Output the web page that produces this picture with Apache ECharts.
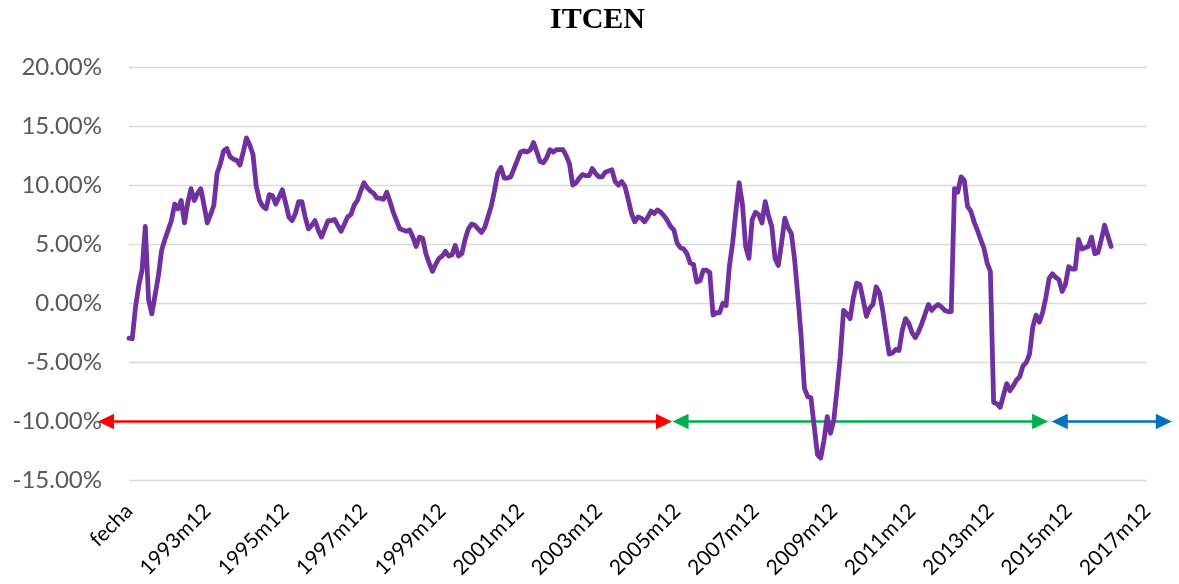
<!DOCTYPE html>
<html>
<head>
<meta charset="utf-8">
<script src="https://cdn.jsdelivr.net/npm/echarts@6/dist/echarts.min.js"></script>
<style>
html,body{margin:0;padding:0;background:#fff;}
#chart{width:1179px;height:584px;}
</style>
</head>
<body>
<div id="chart"></div>
<script>
// ---- data ----
const title = 'ITCEN';
const firstCategory = 'fecha';
const startYear = 1992, endYear = 2017;
// monthly ITCEN growth (%), first value sits on the "fecha" category, then 1992m1 ...
const itcen1992_1999 = [
  -2.95, -3.0, -0.3, 1.5, 2.8, 6.5, 0.3, -0.9, 0.7, 2.3, 4.5, 5.4, 6.2,
  7.0, 8.4, 8.0, 8.7, 6.8, 8.5, 9.7, 8.7, 9.3, 9.7, 8.3, 6.8,
  7.5, 8.3, 11.0, 11.8, 12.9, 13.1, 12.4, 12.2, 12.1, 11.7, 12.8, 14.0,
  13.4, 12.6, 9.9, 8.7, 8.2, 8.0, 9.2, 9.1, 8.4, 9.0, 9.6, 8.5,
  7.3, 7.0, 7.6, 8.6, 8.6, 7.3, 6.3, 6.6, 7.0, 6.2, 5.6, 6.3,
  7.0, 7.0, 7.1, 6.6, 6.1, 6.7, 7.3, 7.5, 8.3, 8.7, 9.5, 10.2,
  9.8, 9.5, 9.3, 8.9, 8.9, 8.8, 9.4, 8.6, 7.7, 7.0, 6.3, 6.2,
  6.1, 6.2, 5.6, 4.8, 5.6, 5.5, 4.2, 3.4, 2.7, 3.3, 3.8, 4.0
];
const itcen2000_2007 = [
  4.4, 4.0, 4.1, 4.9, 4.0, 4.2, 5.4, 6.3, 6.7, 6.6, 6.3, 6.0,
  6.4, 7.3, 8.2, 9.5, 11.0, 11.5, 10.6, 10.6, 10.7, 11.4, 12.1, 12.8,
  12.9, 12.8, 13.0, 13.6, 12.8, 12.0, 11.9, 12.3, 13.0, 12.8, 13.0, 13.0,
  13.0, 12.5, 11.8, 10.0, 10.2, 10.6, 10.9, 10.8, 10.8, 11.4, 11.0, 10.7,
  10.7, 11.1, 11.2, 11.3, 10.3, 10.0, 10.3, 9.9, 8.8, 7.6, 6.9, 7.3,
  7.2, 6.9, 7.3, 7.8, 7.6, 7.9, 7.7, 7.4, 7.0, 6.5, 6.2, 5.1,
  4.7, 4.6, 4.2, 3.4, 3.3, 1.8, 1.9, 2.8, 2.8, 2.6, -1.0, -0.8,
  -0.8, 0.0, -0.2, 3.1, 5.1, 7.8, 10.2, 8.4, 4.8, 3.8, 7.1, 7.7
];
const itcen2008_2017 = [
  7.5, 6.8, 8.6, 7.4, 6.5, 3.8, 3.2, 5.1, 7.2, 6.4, 5.9, 3.7,
  0.6, -2.8, -7.2, -7.9, -8.0, -10.4, -12.8, -13.1, -11.6, -9.6, -11.0, -9.9,
  -7.3, -4.5, -0.6, -0.9, -1.3, 0.5, 1.7, 1.6, 0.3, -1.1, -0.4, -0.1,
  1.4, 0.9, -0.6, -2.5, -4.3, -4.2, -3.9, -4.0, -2.3, -1.3, -1.7, -2.5,
  -2.9, -2.4, -1.7, -0.9, -0.1, -0.6, -0.3, -0.1, -0.3, -0.6, -0.7, -0.7,
  9.7, 9.4, 10.7, 10.4, 8.2, 7.8, 6.9, 6.2, 5.4, 4.7, 3.4, 2.7,
  -8.4, -8.5, -8.8, -7.8, -6.8, -7.4, -7.0, -6.5, -6.2, -5.3, -5.0, -4.3,
  -2.0, -1.0, -1.6, -0.8, 0.5, 2.1, 2.5, 2.2, 2.0, 1.0, 1.6, 3.1,
  2.9, 2.9, 5.4, 4.6, 4.7, 4.8, 5.6, 4.2, 4.3, 5.4, 6.6, 5.7,
  4.8
];
const yTicks = [-15, -10, -5, 0, 5, 10, 15, 20];
// period annotation arrows at the -10% level, ends given in category-index units
const periodArrows = [
  { from: -9.5, to: 166.4, color: '#FF0000' },
  { from: 166.6, to: 281.7, color: '#00B050' },
  { from: 282.8, to: 319.6, color: '#0070C0' }
];
const arrowLevel = -10;

// ---- build ----
const categories = [firstCategory];
for (let y = startYear; y <= endYear; y++) {
  for (let m = 1; m <= 12; m++) categories.push(y + 'm' + m);
}
const values = itcen1992_1999.concat(itcen2000_2007, itcen2008_2017);

const chart = echarts.init(document.getElementById('chart'), null, { renderer: 'canvas' });
chart.setOption({
  animation: false,
  backgroundColor: '#fff',
  title: {
    text: title,
    left: 545,
    top: 0,
    textStyle: { fontFamily: 'Liberation Serif', fontWeight: 'bold', fontSize: 30, color: '#000' }
  },
  grid: { left: 129, right: 32, top: 67, bottom: 103.5, containLabel: false },
  xAxis: {
    type: 'category',
    data: categories,
    boundaryGap: false,
    axisLine: { show: false },
    axisTick: { show: false },
    splitLine: { show: false },
    axisLabel: {
      interval: 23,
      rotate: 45,
      margin: 27,
      fontFamily: 'Lato',
      fontSize: 21,
      color: '#000'
    }
  },
  yAxis: {
    type: 'value',
    min: yTicks[0],
    max: yTicks[yTicks.length - 1],
    interval: 5,
    axisLine: { show: false },
    axisTick: { show: false },
    splitLine: { lineStyle: { color: '#D9D9D9', width: 1.3 } },
    axisLabel: {
      margin: 27,
      fontFamily: 'Lato',
      fontSize: 24,
      color: '#595959',
      formatter: v => v.toFixed(2) + '%'
    }
  },
  series: [{
    type: 'line',
    data: values,
    showSymbol: false,
    symbol: 'none',
    smooth: false,
    lineStyle: { color: '#7030A0', width: 4.8, join: 'round', cap: 'round' }
  }]
});

// arrows positioned through the axes' own scales
function drawArrows() {
  const last = categories.length - 1;
  const x0 = chart.convertToPixel({ xAxisIndex: 0 }, 0);
  const x1 = chart.convertToPixel({ xAxisIndex: 0 }, last);
  const px = i => x0 + (x1 - x0) * i / last;
  const py = chart.convertToPixel({ yAxisIndex: 0 }, arrowLevel);
  const headLen = 16, headHalf = 7.8;
  const els = [];
  periodArrows.forEach(a => {
    const xa = px(a.from), xb = px(a.to);
    els.push({
      type: 'line', silent: true,
      shape: { x1: xa + headLen - 1, y1: py, x2: xb - headLen + 1, y2: py },
      style: { stroke: a.color, lineWidth: 2.5 }
    });
    els.push({
      type: 'polygon', silent: true,
      shape: { points: [[xa, py], [xa + headLen, py - headHalf], [xa + headLen, py + headHalf]] },
      style: { fill: a.color }
    });
    els.push({
      type: 'polygon', silent: true,
      shape: { points: [[xb, py], [xb - headLen, py - headHalf], [xb - headLen, py + headHalf]] },
      style: { fill: a.color }
    });
  });
  chart.setOption({ graphic: els });
}
drawArrows();
</script>
</body>
</html>
